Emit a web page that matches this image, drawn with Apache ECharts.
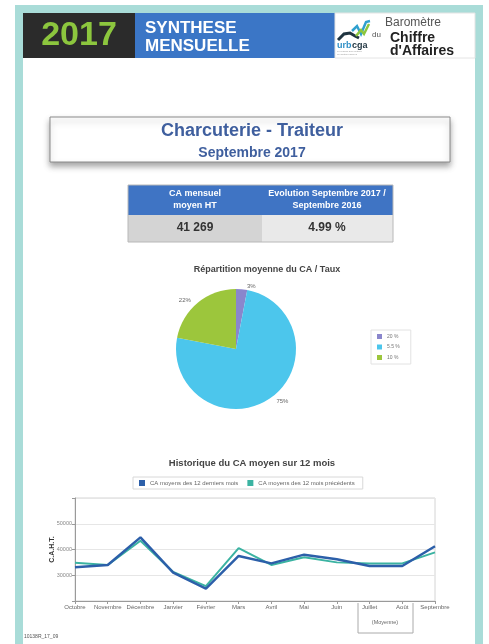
<!DOCTYPE html>
<html>
<head>
<meta charset="utf-8">
<script src="https://cdn.jsdelivr.net/npm/echarts@6/dist/echarts.min.js"></script>
<style>
  html, body { margin: 0; padding: 0; background: #fff; }
  #main { width: 489px; height: 644px; }
</style>
</head>
<body>
<div id="main"></div>
<script>
// données
var months = ['Octobre', 'Novembre', 'Décembre', 'Janvier', 'Février', 'Mars', 'Avril', 'Mai', 'Juin', 'Juillet', 'Août', 'Septembre'];
var caLast12 = [33100, 34000, 44700, 31000, 24800, 37500, 34600, 38000, 36200, 33600, 33600, 41269];
var caPrev12 = [34900, 34000, 43400, 31300, 25800, 40500, 34000, 37000, 35000, 34600, 34600, 38900];
var tauxNames = ['20 %', '5.5 %', '10 %'];
var tauxShares = [3, 75, 22];
var yTicks = [30000, 40000, 50000];
var caMensuel = '41 269';
var evolution = '4.99 %';

var FONT = '"Liberation Sans", Arial, sans-serif';
var myChart = echarts.init(document.getElementById('main'));

var pieData = tauxNames.map(function(n, i) {
    return { name: n, value: tauxShares[i] };
});

var option = {
    textStyle: { fontFamily: FONT },
    animation: false,
    color: ['#8a86cc', '#4cc6ec', '#9cc63c'],
    title: [{
        text: 'Répartition moyenne du CA / Taux',
        left: 262, top: 260, textAlign: 'center',
        textStyle: { fontSize: 9, fontWeight: 'bold', color: '#444' }
    }, {
        text: 'Historique du CA moyen sur 12 mois',
        left: 247, top: 453, textAlign: 'center',
        textStyle: { fontSize: 9.5, fontWeight: 'bold', color: '#444' }
    }],
    legend: [{
        // légende camembert
        data: tauxNames,
        orient: 'vertical',
        left: 371, top: 330,
        padding: [4, 11, 4, 6],
        borderColor: '#e2e2e2', borderWidth: 1,
        itemWidth: 5, itemHeight: 5, itemGap: 5.5,
        icon: 'rect',
        textStyle: { fontSize: 5, color: '#777' }
    }, {
        // légende courbes
        data: ['CA moyens des 12 derniers mois', 'CA moyens des 12 mois précédents'],
        left: 133, top: 477,
        padding: [3, 8, 3, 6],
        borderColor: '#d8d8d8', borderWidth: 1,
        itemWidth: 6, itemHeight: 6, itemGap: 9,
        icon: 'rect',
        textStyle: { fontSize: 6, color: '#666' }
    }],
    grid: {
        left: 75, right: 54, top: 498, height: 103,
        show: true, borderColor: '#d4d4d4', borderWidth: 1
    },
    xAxis: {
        type: 'category',
        data: months,
        boundaryGap: false,
        axisLine: { lineStyle: { color: '#9a9a9a' } },
        axisTick: { show: true, length: 3, lineStyle: { color: '#9a9a9a' } },
        axisLabel: { interval: 0, fontSize: 6, color: '#666', margin: 3 }
    },
    yAxis: {
        type: 'value',
        min: 20000, max: 60000, interval: 10000,
        name: 'C.A.H.T.',
        nameLocation: 'middle',
        nameGap: 19,
        nameMoveOverlap: false,
        nameTextStyle: { fontSize: 7, fontWeight: 'bold', color: '#333' },
        axisLine: { show: true, lineStyle: { color: '#9a9a9a' } },
        axisTick: { show: true, length: 3, lineStyle: { color: '#9a9a9a' } },
        axisLabel: {
            fontSize: 5.5, color: '#888', margin: 3,
            formatter: function(v) { return yTicks.indexOf(v) >= 0 ? String(v) : ''; }
        },
        splitLine: { lineStyle: { color: '#e6e6e6' } }
    },
    series: [{
        name: 'Taux',
        type: 'pie',
        radius: 60,
        center: [236, 349],
        startAngle: 90,
        data: pieData,
        label: { formatter: '{c}%', fontSize: 6, color: '#666' },
        labelLine: { show: false, length: 3, length2: 0 },
        itemStyle: { borderWidth: 0 }
    }, {
        name: 'CA moyens des 12 mois précédents',
        type: 'line',
        data: caPrev12,
        symbol: 'none',
        itemStyle: { color: '#3bb3a2' },
        lineStyle: { width: 2, color: '#3bb3a2' },
        z: 2
    }, {
        name: 'CA moyens des 12 derniers mois',
        type: 'line',
        data: caLast12,
        symbol: 'none',
        itemStyle: { color: '#2c5fa9' },
        lineStyle: { width: 2.5, color: '#2c5fa9' },
        z: 3
    }],
    graphic: {
        elements: [
            // cadre
            { type: 'rect', shape: { x: 15, y: 5, width: 468, height: 645 }, style: { fill: '#a9dcd8' }, z: -10 },
            { type: 'rect', shape: { x: 23, y: 13, width: 452, height: 640 }, style: { fill: '#fff' }, z: -9 },
            // bandeau
            { type: 'rect', shape: { x: 23, y: 13, width: 112, height: 45 }, style: { fill: '#2b2b2b' } },
            { type: 'text', x: 79, y: 36, style: { text: '2017', fill: '#8cc63e', font: 'bold 34px ' + FONT, textAlign: 'center', textVerticalAlign: 'middle' } },
            { type: 'rect', shape: { x: 135, y: 13, width: 200, height: 45 }, style: { fill: '#3b76c6' } },
            { type: 'text', x: 145, y: 28, style: { text: 'SYNTHESE', fill: '#fff', font: 'bold 17px ' + FONT, textVerticalAlign: 'middle' } },
            { type: 'text', x: 145, y: 46, style: { text: 'MENSUELLE', fill: '#fff', font: 'bold 17px ' + FONT, textVerticalAlign: 'middle' } },
            { type: 'rect', shape: { x: 335, y: 13, width: 140, height: 45 }, style: { fill: '#fff', stroke: '#e4e4e4' } },
            // logo
            { type: 'polyline', shape: { points: [[338, 40], [344, 34], [350, 33], [355, 36], [359, 38]] }, style: { stroke: '#1f3440', lineWidth: 3, fill: null } },
            { type: 'polyline', shape: { points: [[352, 31], [357, 26], [361, 34], [366, 22], [370, 21]] }, style: { stroke: '#2fa0cf', lineWidth: 2.5, fill: null } },
            { type: 'polyline', shape: { points: [[356, 36], [361, 30], [364, 34], [369, 24]] }, style: { stroke: '#8cc63e', lineWidth: 2.5, fill: null } },
            { type: 'text', x: 337, y: 46, style: { text: 'urb', fill: '#2f8fc6', font: 'bold 9px ' + FONT, textVerticalAlign: 'middle' } },
            { type: 'text', x: 352, y: 46, style: { text: 'cga', fill: '#1f3440', font: 'bold 9px ' + FONT, textVerticalAlign: 'middle' } },
            { type: 'text', x: 337, y: 53, style: { text: 'Le réseau des centres\nde gestion agréés', fill: '#999', font: '2.5px ' + FONT, textVerticalAlign: 'middle' } },
            { type: 'text', x: 385, y: 23, style: { text: 'Baromètre', fill: '#555', font: '12px ' + FONT, textVerticalAlign: 'middle' } },
            { type: 'text', x: 372, y: 35, style: { text: 'du', fill: '#555', font: '8px ' + FONT, textVerticalAlign: 'middle' } },
            { type: 'text', x: 390, y: 38, style: { text: 'Chiffre', fill: '#222', font: 'bold 14px ' + FONT, textVerticalAlign: 'middle' } },
            { type: 'text', x: 390, y: 51, style: { text: "d'Affaires", fill: '#222', font: 'bold 14px ' + FONT, textVerticalAlign: 'middle' } },
            // titre
            { type: 'rect', shape: { x: 50, y: 117, width: 400, height: 45 }, style: { fill: '#fff', stroke: '#8a8a8a', lineWidth: 1, shadowBlur: 6, shadowOffsetY: 4, shadowColor: 'rgba(0,0,0,0.35)' } },
            { type: 'text', x: 252, y: 131, style: { text: 'Charcuterie - Traiteur', fill: '#3f5f9e', font: 'bold 18px ' + FONT, textAlign: 'center', textVerticalAlign: 'middle' } },
            { type: 'text', x: 252, y: 153, style: { text: 'Septembre 2017', fill: '#3f5f9e', font: 'bold 14px ' + FONT, textAlign: 'center', textVerticalAlign: 'middle' } },
            // tableau
            { type: 'rect', shape: { x: 128, y: 185, width: 265, height: 30 }, style: { fill: '#3f74c4' } },
            { type: 'rect', shape: { x: 128, y: 215, width: 134, height: 27 }, style: { fill: '#d4d4d4' } },
            { type: 'rect', shape: { x: 262, y: 215, width: 131, height: 27 }, style: { fill: '#e9e9e9' } },
            { type: 'rect', shape: { x: 128, y: 185, width: 265, height: 57 }, style: { fill: null, stroke: '#b8b8b8', lineWidth: 1 } },
            { type: 'text', x: 195, y: 200, style: { text: 'CA mensuel\nmoyen HT', fill: '#fff', font: 'bold 9px ' + FONT, lineHeight: 12, textAlign: 'center', textVerticalAlign: 'middle' } },
            { type: 'text', x: 327, y: 200, style: { text: 'Evolution Septembre 2017 /\nSeptembre 2016', fill: '#fff', font: 'bold 9px ' + FONT, lineHeight: 12, textAlign: 'center', textVerticalAlign: 'middle' } },
            { type: 'text', x: 195, y: 228, style: { text: caMensuel, fill: '#333', font: 'bold 12px ' + FONT, textAlign: 'center', textVerticalAlign: 'middle' } },
            { type: 'text', x: 327, y: 228, style: { text: evolution, fill: '#333', font: 'bold 12px ' + FONT, textAlign: 'center', textVerticalAlign: 'middle' } },
            // (Moyenne)
            { type: 'polyline', shape: { points: [[358, 603], [358, 633], [413, 633], [413, 603]] }, style: { stroke: '#aaa', lineWidth: 1, fill: null } },
            { type: 'text', x: 385, y: 622, style: { text: '(Moyenne)', fill: '#666', font: '5.5px ' + FONT, textAlign: 'center', textVerticalAlign: 'middle' } },
            // pied de page
            { type: 'text', x: 24, y: 637, style: { text: '10138R_17_09', fill: '#555', font: '5px ' + FONT, textVerticalAlign: 'middle' } }
        ]
    }
};

myChart.setOption(option, true);
</script>
</body>
</html>
